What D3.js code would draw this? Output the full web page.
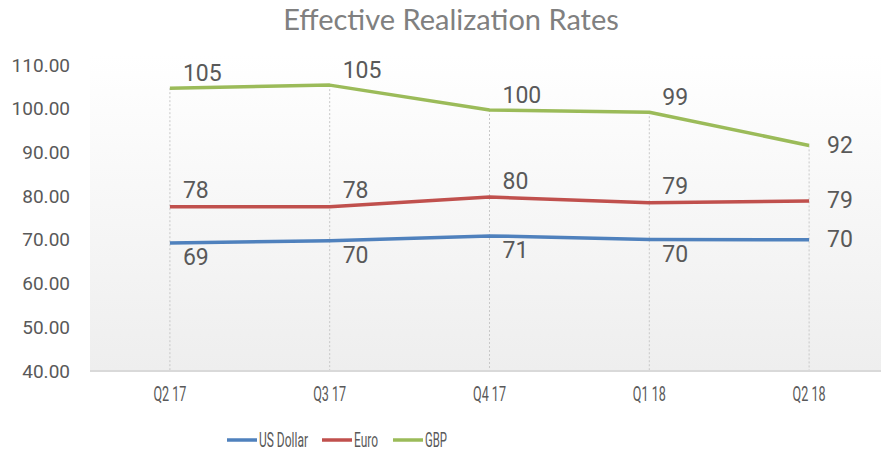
<!DOCTYPE html>
<html>
<head>
<meta charset="utf-8">
<script src="https://d3js.org/d3.v7.min.js"></script>
<style>
  body { margin: 0; background: #fff; }
  svg { display: block; }
</style>
</head>
<body>
<div id="chart"></div>
<script>
// data
const quarters = ["Q2 17", "Q3 17", "Q4 17", "Q1 18", "Q2 18"];
const usDollar = [69.3, 69.8, 70.9, 70.1, 70.0];
const euro = [77.6, 77.6, 79.8, 78.5, 78.9];
const gbp = [104.7, 105.4, 99.7, 99.2, 91.6];
const yTicks = [40, 50, 60, 70, 80, 90, 100, 110];

const seriesList = [
    { name: "US Dollar", values: usDollar, color: "#4f81bd", labelDy: 15 },
    { name: "Euro", values: euro, color: "#c0504d", labelDy: -16 },
    { name: "GBP", values: gbp, color: "#9bbb59", labelDy: -15 }
];

const width = 881, height = 452;
const plot = { left: 90, right: 889, top: 55, bottom: 371 };
const narrowFont = "Roboto, 'Open Sans', sans-serif";

const svg = d3.select("#chart").append("svg")
    .attr("width", width)
    .attr("height", height);

const x = d3.scaleBand()
    .domain(quarters)
    .range([plot.left, plot.right]);

const y = d3.scaleLinear()
    .domain([40, 110])
    .range([371, 65]);

const cx = d => x(d) + x.bandwidth() / 2;

// 背景渐变
const grad = svg.append("defs").append("linearGradient")
    .attr("id", "bg").attr("x1", 0).attr("y1", 0).attr("x2", 0).attr("y2", 1);
grad.append("stop").attr("offset", "0%").attr("stop-color", "#ffffff");
grad.append("stop").attr("offset", "100%").attr("stop-color", "#eeeeee");

svg.append("rect")
    .attr("x", plot.left)
    .attr("y", plot.top)
    .attr("width", width - plot.left)
    .attr("height", plot.bottom - plot.top)
    .attr("fill", "url(#bg)");

// title
svg.append("text")
    .attr("x", 451)
    .attr("y", 30)
    .attr("text-anchor", "middle")
    .attr("font-family", "Lato, 'Open Sans', sans-serif")
    .attr("font-size", 29)
    .attr("fill", "#808080")
    .text("Effective Realization Rates");

// drop lines (from top series down to axis)
svg.append("g")
    .selectAll("line")
    .data(quarters)
    .enter().append("line")
    .attr("x1", d => cx(d))
    .attr("x2", d => cx(d))
    .attr("y1", (d, i) => y(d3.max(seriesList, s => s.values[i])))
    .attr("y2", plot.bottom)
    .attr("stroke", "#c8c8c8")
    .attr("stroke-width", 1)
    .attr("stroke-dasharray", "2,2");

// y axis labels
const yAxis = d3.axisLeft(y)
    .tickValues(yTicks)
    .tickFormat(d3.format(".2f"))
    .tickSize(0)
    .tickPadding(0);

svg.append("g")
    .attr("transform", "translate(70,0)")
    .call(yAxis)
    .call(g => g.select(".domain").remove())
    .selectAll("text")
    .attr("font-family", "Roboto, sans-serif")
    .attr("font-size", 19)
    .attr("fill", "#595959");

// x axis
const xAxis = d3.axisBottom(x).tickSize(0).tickPadding(15);
svg.append("g")
    .attr("transform", `translate(0,${plot.bottom})`)
    .call(xAxis)
    .call(g => g.select(".domain").remove())
    .selectAll("text")
    .attr("font-family", narrowFont)
    .attr("font-size", 21)
    .attr("fill", "#595959")
    .attr("textLength", 33)
    .attr("lengthAdjust", "spacingAndGlyphs");

svg.append("line")
    .attr("x1", plot.left)
    .attr("x2", width)
    .attr("y1", plot.bottom)
    .attr("y2", plot.bottom)
    .attr("stroke", "#d9d9d9")
    .attr("stroke-width", 2);

// lines
const line = d3.line()
    .x((d, i) => cx(quarters[i]))
    .y(d => y(d));

seriesList.forEach(s => {
    svg.append("path")
        .datum(s.values)
        .attr("d", line)
        .attr("fill", "none")
        .attr("stroke", s.color)
        .attr("stroke-width", 3.5)
        .attr("stroke-linejoin", "round");
});

// data labels
seriesList.forEach(s => {
    svg.append("g")
        .selectAll("text")
        .data(s.values)
        .enter().append("text")
        .attr("x", (d, i) => cx(quarters[i]) + (i === quarters.length - 1 ? 18 : 13))
        .attr("y", (d, i) => y(d) + (i === quarters.length - 1 ? 0 : s.labelDy))
        .attr("dominant-baseline", "central")
        .attr("font-family", "Roboto, sans-serif")
        .attr("font-size", 23)
        .attr("fill", "#595959")
        .text(d => Math.round(d));
});

// legend
const legendX = [227, 322, 393];
const legendTextW = [49, 24, 22];
const legend = svg.append("g");
seriesList.forEach((s, i) => {
    legend.append("line")
        .attr("x1", legendX[i])
        .attr("x2", legendX[i] + 30)
        .attr("y1", 440)
        .attr("y2", 440)
        .attr("stroke", s.color)
        .attr("stroke-width", 3.5);
    legend.append("text")
        .attr("x", legendX[i] + 32)
        .attr("y", 440)
        .attr("dominant-baseline", "central")
        .attr("font-family", narrowFont)
        .attr("font-size", 21)
        .attr("fill", "#595959")
        .attr("textLength", legendTextW[i])
        .attr("lengthAdjust", "spacingAndGlyphs")
        .text(s.name);
});
</script>
</body>
</html>
